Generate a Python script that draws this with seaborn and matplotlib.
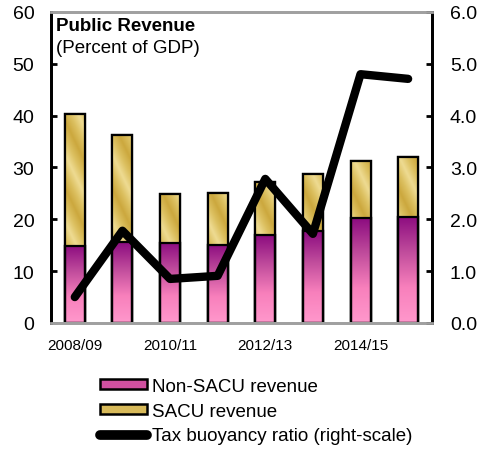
import numpy as np
import pandas as pd
import matplotlib
matplotlib.use("Agg")
import matplotlib.pyplot as plt
import seaborn as sns
from matplotlib.colors import LinearSegmentedColormap
from matplotlib.patches import Patch
from matplotlib.lines import Line2D

years = ["2008/09", "2009/10", "2010/11", "2011/12", "2012/13", "2013/14", "2014/15", "2015/16"]
non_sacu = [14.9, 15.6, 15.5, 15.1, 16.9, 17.7, 20.2, 20.5]
sacu = [25.4, 20.6, 9.3, 10.0, 10.3, 11.0, 11.1, 11.5]
buoyancy = [0.50, 1.78, 0.85, 0.91, 2.78, 1.72, 4.80, 4.71]
shown_ticks = ["2008/09", "2010/11", "2012/13", "2014/15"]

sns.set_theme(style="white")
plt.rcParams["font.family"] = ["Liberation Sans", "DejaVu Sans"]
plt.rcParams["text.color"] = "black"
plt.rcParams["xtick.color"] = "black"
plt.rcParams["ytick.color"] = "black"
plt.rcParams["axes.labelcolor"] = "black"

df = pd.DataFrame({"year": years, "non": non_sacu, "sacu": sacu, "buoy": buoyancy})
df["total"] = df["non"] + df["sacu"]

fig = plt.figure(figsize=(4.81, 4.56), dpi=100)
ax = fig.add_axes([0.106, 0.2895, 0.792, 0.682])

bw = 0.42
sns.barplot(data=df, x="year", y="total", color="#D8BA5A", width=bw, ax=ax,
            edgecolor="black", linewidth=1.6, saturation=1)
sns.barplot(data=df, x="year", y="non", color="#D050A0", width=bw, ax=ax,
            edgecolor="black", linewidth=1.6, saturation=1)

pink = LinearSegmentedColormap.from_list("pk", ["#FF98CC", "#F880BC", "#C04C9C", "#8C0C80"])
gold = LinearSegmentedColormap.from_list("gd", ["#CCA83E", "#DCC060", "#EEDB92", "#DCC060", "#CCA83E"])

n = len(years)
for i, p in enumerate(ax.patches):
    x0, y0 = p.get_x(), p.get_y()
    w, h = p.get_width(), p.get_height()
    if h <= 0:
        continue
    if i < n:
        xx, yy = np.meshgrid(np.linspace(0, 1, 40), np.linspace(0, 1, 300))
        z = (xx * 0.6 + yy * h / 13.0) % 1.0
        im = ax.imshow(z, cmap=gold, extent=[x0, x0 + w, y0, y0 + h], origin="lower",
                       aspect="auto", zorder=p.get_zorder() + 0.1, interpolation="bilinear",
                       vmin=0, vmax=1)
    else:
        z = np.linspace(0, 1, 200).reshape(-1, 1)
        im = ax.imshow(z, cmap=pink, extent=[x0, x0 + w, y0, y0 + h], origin="lower",
                       aspect="auto", zorder=p.get_zorder() + 0.1, interpolation="bilinear",
                       vmin=0, vmax=1)
    im.set_clip_path(p)
    edge = plt.Rectangle((x0, y0), w, h, fill=False, edgecolor="black", linewidth=1.6,
                         zorder=p.get_zorder() + 0.2)
    ax.add_patch(edge)

ax.set_xlim(-0.5, n - 0.5)
ax.set_ylim(0, 60)
ax.set_yticks([0, 10, 20, 30, 40, 50, 60])
ax.set_xlabel("")
ax.set_ylabel("")
ax.set_xticks([years.index(t) for t in shown_ticks])
ax.set_xticklabels(shown_ticks, fontsize=11)
ax.tick_params(axis="y", labelsize=14, direction="in", length=4, width=2, color="black", pad=12)
ax.tick_params(axis="x", length=0, pad=11)

ax2 = ax.twinx()
sns.lineplot(data=df, x="year", y="buoy", color="black", linewidth=6, ax=ax2, sort=False)
ax2.set_ylim(0, 6)
ax2.set_yticks([0, 1, 2, 3, 4, 5, 6])
ax2.set_yticklabels([f"{v:.1f}" for v in range(7)])
ax2.set_ylabel("")
ax2.set_xlabel("")
ax2.tick_params(axis="y", labelsize=14, direction="in", length=4, width=2, color="black", pad=13)

for a in (ax, ax2):
    a.spines["left"].set_color("black")
    a.spines["left"].set_linewidth(2)
    a.spines["right"].set_color("black")
    a.spines["right"].set_linewidth(2)
    a.spines["top"].set_color("#A0A0A0")
    a.spines["top"].set_linewidth(2)
    a.spines["bottom"].set_color("#A0A0A0")
    a.spines["bottom"].set_linewidth(2)

ax.text(0.012, 0.985, "Public Revenue", transform=ax.transAxes, fontsize=13.5,
        fontweight="bold", va="top", ha="left")
ax.text(0.012, 0.912, "(Percent of GDP)", transform=ax.transAxes, fontsize=13.5,
        va="top", ha="left")

handles = [
    Patch(facecolor="#D050A0", edgecolor="black", linewidth=1.8),
    Patch(facecolor="#D8BA5A", edgecolor="black", linewidth=1.8),
    Line2D([0], [0], color="black", linewidth=7),
]
labels = ["Non-SACU revenue", "SACU revenue", "Tax buoyancy ratio (right-scale)"]
fig.legend(handles, labels, loc="upper left", bbox_to_anchor=(0.188, 0.19), frameon=False,
           fontsize=13.5, handlelength=2.5, handleheight=0.4, handletextpad=0.3,
           labelspacing=0.42, borderpad=0)

fig.savefig("out.png", dpi=100)
